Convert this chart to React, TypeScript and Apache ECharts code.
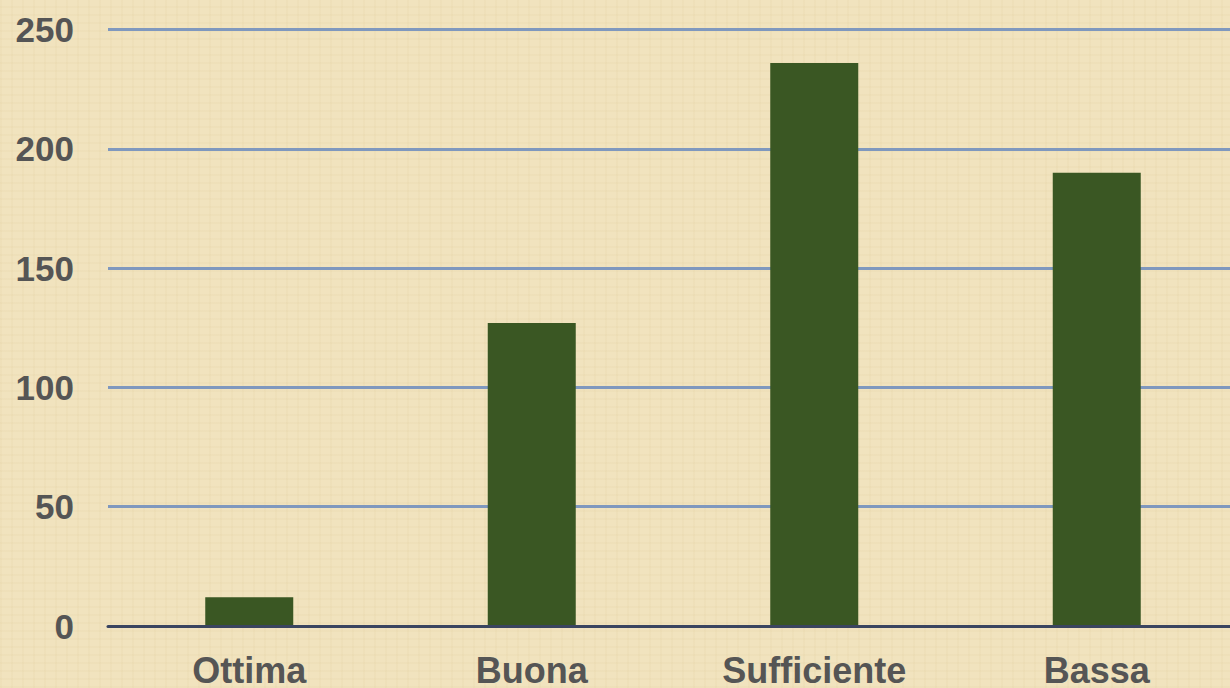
import React, { useEffect, useRef } from "react";
import * as echarts from "echarts";

const categories = ["Ottima", "Buona", "Sufficiente", "Bassa"];
const values = [12, 127, 236, 190];
const yTicks = { min: 0, max: 250, interval: 50 };

export default function App() {
  const ref = useRef<HTMLDivElement>(null);
  useEffect(() => {
    if (!ref.current) return;
    const chart = echarts.init(ref.current, null, { renderer: "svg" });
    chart.setOption({
      animation: false,
      backgroundColor: "transparent",
      grid: { left: 108, right: 0, top: 29.5, bottom: 60.5, containLabel: false },
      xAxis: {
        type: "category",
        data: categories,
        z: 5,
        axisLine: { show: true, lineStyle: { color: "#3A4560", width: 3 } },
        axisTick: { show: false },
        axisLabel: {
          color: "#555555",
          fontFamily: "Liberation Sans, Arial, sans-serif",
          fontWeight: "bold",
          fontSize: 36,
          margin: 26,
        },
      },
      yAxis: {
        type: "value",
        min: yTicks.min,
        max: yTicks.max,
        interval: yTicks.interval,
        axisLine: { show: false },
        axisTick: { show: false },
        splitLine: { show: true, lineStyle: { color: "#7F98BE", width: 3 } },
        axisLabel: {
          color: "#555555",
          fontFamily: "Liberation Sans, Arial, sans-serif",
          fontWeight: "bold",
          fontSize: 35,
          margin: 34,
        },
      },
      series: [
        {
          type: "bar",
          data: values,
          barWidth: 88,
          itemStyle: { color: "#3A5723" },
        },
      ],
    });
    return () => chart.dispose();
  }, []);
  return (
    <div
      style={{
        position: "fixed",
        left: 0,
        top: 0,
        width: 1230,
        height: 688,
        overflow: "hidden",
        backgroundColor: "#F1E3BE",
        backgroundImage:
          "repeating-linear-gradient(0deg, rgba(205,180,120,0.07) 0px, rgba(205,180,120,0.07) 2px, transparent 2px, transparent 8px), repeating-linear-gradient(90deg, rgba(205,180,120,0.07) 0px, rgba(205,180,120,0.07) 2px, transparent 2px, transparent 11px)",
      }}
    >
      <div ref={ref} style={{ width: 1238, height: 688 }} />
    </div>
  );
}
